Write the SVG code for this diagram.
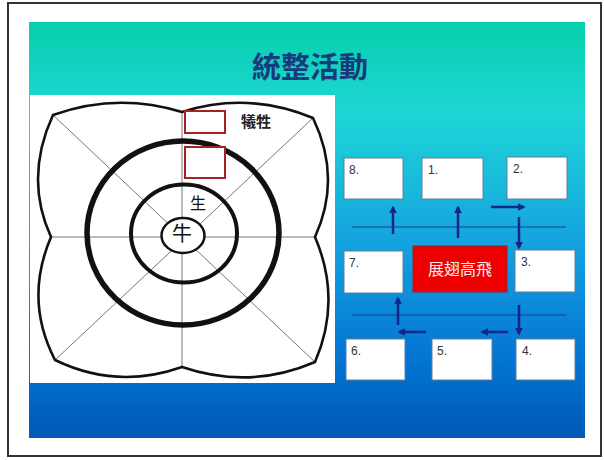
<svg xmlns="http://www.w3.org/2000/svg" width="604" height="460" viewBox="0 0 604 460">
<defs>
<linearGradient id="bg" x1="0" y1="0" x2="0" y2="1">
<stop offset="0" stop-color="#07cfab"/>
<stop offset="0.22" stop-color="#1ed6d6"/>
<stop offset="0.55" stop-color="#149fe0"/>
<stop offset="0.82" stop-color="#0273d2"/>
<stop offset="1" stop-color="#0059b6"/>
</linearGradient>
<marker id="ah" viewBox="0 0 10 10" refX="8" refY="5" markerWidth="3.2" markerHeight="3.2" orient="auto" markerUnits="strokeWidth">
<path d="M0,0 L10,5 L0,10 Z" fill="#15258a"/>
</marker>
<style>
.box{fill:#ffffff;stroke:#5f7f96;stroke-width:1}
.num{font-family:"Liberation Sans",Arial,sans-serif;font-size:12px;fill:#333333}
.arr{stroke:#15258a;stroke-width:2.5;fill:none;marker-end:url(#ah)}
.hl{stroke:#1a3a8a;stroke-width:1;fill:none}
.thin{stroke:#555555;stroke-width:0.8;fill:none}
.cjk{font-family:"Noto Sans CJK TC","Noto Sans CJK SC",sans-serif}
</style>
</defs>
<rect x="0" y="0" width="604" height="460" fill="#ffffff"/>
<rect x="8" y="3" width="593" height="453" fill="none" stroke="#333333" stroke-width="2"/>
<rect x="29" y="22" width="556" height="416" fill="url(#bg)"/>
<text x="310" y="78" text-anchor="middle" class="cjk" font-size="29" font-weight="bold" fill="#173a7c">統整活動</text>

<g id="left-panel">
<rect x="30" y="95" width="305" height="288" fill="#ffffff"/>
<g id="grid-lines">
<line class="thin" x1="53" y1="115" x2="315" y2="362"/>
<line class="thin" x1="313" y1="118" x2="55" y2="360"/>
<line class="thin" x1="51" y1="237" x2="315" y2="237"/>
<line class="thin" x1="182" y1="112" x2="182" y2="367"/>
</g>
<path id="petal-outline" d="M53,115 Q117,92 182,112 Q248,91 313,118 Q342,178 315,237 Q342,300 315,362 Q250,390 182,367 Q117,390 55,360 Q24,300 51,237 Q24,178 53,115 Z" fill="none" stroke="#111111" stroke-width="2.6" stroke-linejoin="miter"/>
<ellipse id="ring-outer" cx="183" cy="233" rx="96" ry="92" fill="none" stroke="#111111" stroke-width="5.5"/>
<ellipse id="ring-middle" cx="184" cy="233.5" rx="53" ry="49" fill="none" stroke="#111111" stroke-width="4"/>
<g id="core">
<ellipse cx="183" cy="235.5" rx="21.5" ry="17.5" fill="#ffffff" stroke="#111111" stroke-width="2.5"/>
<text x="182" y="241" text-anchor="middle" class="cjk" font-size="20" fill="#111111">牛</text>
</g>
<text id="label-sheng" x="198" y="209" text-anchor="middle" class="cjk" font-size="16" fill="#111111">生</text>
<text id="label-xisheng" x="256" y="127" text-anchor="middle" class="cjk" font-size="15" font-weight="bold" fill="#222222">犧牲</text>
<rect id="red-box-1" x="185" y="111" width="40" height="22" fill="#ffffff" stroke="#a52222" stroke-width="2"/>
<rect id="red-box-2" x="185" y="147" width="40" height="31" fill="#ffffff" stroke="#a52222" stroke-width="2"/>
</g>

<g id="connectors">
<line class="hl" x1="352" y1="227" x2="566" y2="227"/>
<line class="hl" x1="352" y1="315" x2="566" y2="315"/>
<line class="arr" x1="393" y1="234" x2="393" y2="207"/>
<line class="arr" x1="458" y1="238" x2="458" y2="207"/>
<line class="arr" x1="491" y1="207" x2="524" y2="207"/>
<line class="arr" x1="519" y1="217" x2="519" y2="248"/>
<line class="arr" x1="519" y1="305" x2="519" y2="334"/>
<line class="arr" x1="508" y1="332" x2="482" y2="332"/>
<line class="arr" x1="426" y1="332" x2="399" y2="332"/>
<line class="arr" x1="398" y1="325" x2="398" y2="298"/>
</g>

<g id="center-node">
<rect x="413" y="246" width="94" height="46" fill="#ee0000" stroke="#8a2a2a" stroke-width="1"/>
<text x="460" y="275" text-anchor="middle" class="cjk" font-size="16" fill="#f4f0f0">展翅高飛</text>
</g>
<g id="node-8"><rect class="box" x="344" y="158" width="59" height="41"/><text class="num" x="349" y="174">8.</text></g>
<g id="node-1"><rect class="box" x="422" y="158" width="61" height="41"/><text class="num" x="428" y="174">1.</text></g>
<g id="node-2"><rect class="box" x="507" y="157" width="60" height="42"/><text class="num" x="513" y="173">2.</text></g>
<g id="node-7"><rect class="box" x="344" y="251" width="59" height="42"/><text class="num" x="349" y="267">7.</text></g>
<g id="node-3"><rect class="box" x="515" y="250" width="60" height="42"/><text class="num" x="521" y="266">3.</text></g>
<g id="node-6"><rect class="box" x="346" y="339" width="59" height="41"/><text class="num" x="351" y="355">6.</text></g>
<g id="node-5"><rect class="box" x="432" y="339" width="60" height="41"/><text class="num" x="437" y="355">5.</text></g>
<g id="node-4"><rect class="box" x="516" y="339" width="59" height="41"/><text class="num" x="522" y="355">4.</text></g>
</svg>
